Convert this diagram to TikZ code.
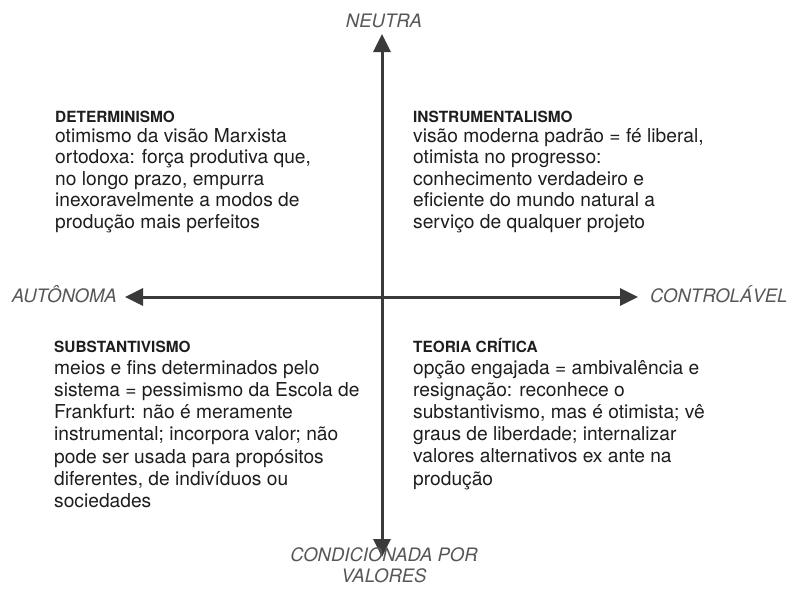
\documentclass[tikz,border=0pt]{standalone}
\usepackage{fontspec}
\setmainfont{TeX Gyre Heros}
\usetikzlibrary{arrows.meta}
\definecolor{inkc}{HTML}{1E1E1E}
\definecolor{axisc}{HTML}{3A3A3A}
\definecolor{labelc}{HTML}{575757}
\newcommand\hdtext[1]{\parbox[t]{330pt}{\fontsize{15.4}{18}\selectfont\bfseries #1}}
\newcommand\bdtext[2]{\parbox[t]{330pt}{\fontsize{19.2}{#1}\selectfont #2}}
\begin{document}
\begin{tikzpicture}[x=1pt,y=-1pt,
  axisline/.style={draw=axisc,line width=3pt,{Triangle[length=18pt,width=17pt]}-{Triangle[length=18pt,width=17pt]}},
  axlabel/.style={inner sep=0pt,text=labelc,font=\fontsize{18.5}{21}\selectfont\itshape},
  hd/.style={inner sep=0pt,anchor=base west,text=inkc},
  bd/.style={inner sep=0pt,anchor=base west,text=inkc}]
\useasboundingbox[fill=white] (0,0) rectangle (793,606);
% axes
\coordinate (top) at (382,34);
\coordinate (bottom) at (382,557);
\coordinate (left) at (125,297);
\coordinate (right) at (638,297);
\draw[axisline] (bottom) -- (top);
\draw[axisline] (left) -- (right);
% axis labels
\node[axlabel,anchor=base] (neutra) at (384,27) {NEUTRA};
\node[axlabel,anchor=base east] (autonoma) at (117,302) {AUTÔNOMA};
\node[axlabel,anchor=base west] (controlavel) at (650,302) {CONTROLÁVEL};
\node[axlabel,anchor=base,align=center] (condicionada) at (384,582) {CONDICIONADA POR\\VALORES};
% top-left
\node[hd] (detH) at (55,122) {\hdtext{DETERMINISMO}};
\node[bd] (detB) at (55,142) {\bdtext{21.5}{otimismo da visão Marxista\\ortodoxa: força produtiva que,\\no longo prazo, empurra\\inexoravelmente a modos de\\produção mais perfeitos}};
% top-right
\node[hd] (insH) at (413,122) {\hdtext{INSTRUMENTALISMO}};
\node[bd] (insB) at (413,142) {\bdtext{21.5}{visão moderna padrão = fé liberal,\\otimista no progresso:\\conhecimento verdadeiro e\\eficiente do mundo natural a\\serviço de qualquer projeto}};
% bottom-left
\node[hd] (subH) at (54,352) {\hdtext{SUBSTANTIVISMO}};
\node[bd] (subB) at (54,374) {\bdtext{22.3}{meios e fins determinados pelo\\sistema = pessimismo da Escola de\\Frankfurt: não é meramente\\instrumental; incorpora valor; não\\pode ser usada para propósitos\\diferentes, de indivíduos ou\\sociedades}};
% bottom-right
\node[hd] (teoH) at (413,352) {\hdtext{TEORIA CRÍTICA}};
\node[bd] (teoB) at (413,374) {\bdtext{22.2}{opção engajada = ambivalência e\\resignação: reconhece o\\substantivismo, mas é otimista; vê\\graus de liberdade; internalizar\\valores alternativos ex ante na\\produção}};
\end{tikzpicture}
\end{document}
